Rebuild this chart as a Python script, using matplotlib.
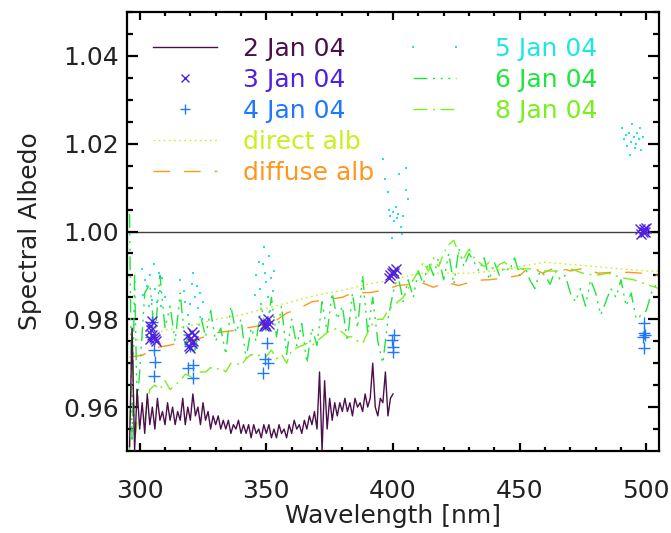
"""
Spectral albedo, Jan 04
"""
import matplotlib
matplotlib.use('Agg')
import matplotlib.pyplot as plt
from matplotlib.lines import Line2D
import numpy as np

# --- 2 Jan 04 : spectrum, 1 nm
wl_2jan = np.arange(296, 401)
alb_2jan = [
    0.951, 0.978, 0.950, 0.964, 0.955, 0.961, 0.954, 0.963, 0.956, 0.960,
    0.955, 0.962, 0.957, 0.959, 0.956, 0.961, 0.957, 0.960, 0.956, 0.959,
    0.957, 0.962, 0.956, 0.960, 0.957, 0.963, 0.958, 0.960, 0.956, 0.961,
    0.957, 0.959, 0.955, 0.958, 0.956, 0.958, 0.955, 0.957, 0.955, 0.957,
    0.954, 0.956, 0.955, 0.957, 0.954, 0.956, 0.954, 0.956, 0.953, 0.956,
    0.954, 0.955, 0.953, 0.956, 0.954, 0.956, 0.953, 0.955, 0.953, 0.956,
    0.954, 0.955, 0.953, 0.956, 0.954, 0.957, 0.955, 0.956, 0.954, 0.957,
    0.955, 0.958, 0.956, 0.959, 0.955, 0.968, 0.950, 0.966, 0.955, 0.962,
    0.957, 0.961, 0.958, 0.961, 0.959, 0.962, 0.959, 0.961, 0.958, 0.962,
    0.960, 0.961, 0.959, 0.963, 0.960, 0.962, 0.970, 0.960, 0.958, 0.962,
    0.961, 0.968, 0.958, 0.962, 0.963,
]

# --- 3 Jan 04 : x markers
wl_3jan = [304, 304.5, 305, 305.5, 306, 305, 304, 306.5,
           319, 320, 320.5, 321, 319.5, 320, 321.5, 320.5,
           348.5, 349.5, 350, 350.5, 351, 349,
           398.5, 399.5, 400, 400.5, 401, 399,
           497.5, 498.5, 499, 499.5, 500, 498]
alb_3jan = [0.9785, 0.9775, 0.9765, 0.976, 0.9755, 0.9795, 0.9755, 0.975,
            0.9765, 0.9755, 0.9745, 0.975, 0.974, 0.9735, 0.9765, 0.977,
            0.9795, 0.979, 0.9785, 0.980, 0.979, 0.9785,
            0.9895, 0.9905, 0.991, 0.9905, 0.9915, 0.990,
            1.0005, 1.000, 1.0005, 1.000, 1.0008, 0.9995]

# --- 4 Jan 04 : + markers
wl_4jan = [305, 304.5, 305.5, 306, 305.5,
           319, 321, 321, 320,
           350.3, 349.5, 350.7, 348.8,
           400.5, 399.5, 400, 400,
           499, 499, 498.5, 499.5, 499]
alb_4jan = [0.9793, 0.9759, 0.973, 0.9703, 0.967,
            0.969, 0.9695, 0.9666, 0.974,
            0.9745, 0.971, 0.970, 0.9677,
            0.9764, 0.9752, 0.9736, 0.9725,
            0.9791, 0.9768, 0.9759, 0.9764, 0.9734]

# --- 5 Jan 04 : dots
wl_5jan = [301, 302, 303, 301.5, 304, 305.5, 306, 307, 308, 309, 310, 303.5, 305, 307.5, 308.5,
           316, 317.5, 318, 319, 320, 320.5, 321, 322, 323, 324, 324.5, 319.5, 322.5, 325,
           345.5, 346, 347, 347.5, 348, 349, 349.5, 350, 350.5, 351, 352, 352.5, 353, 348.5, 351.5,
           396, 397, 398, 398.5, 399, 400, 400.5, 401, 401.5, 402, 403, 404, 403.5, 405, 406, 399.5, 402.5, 405,
           490.5, 491, 492, 492.5, 493, 494, 494.5, 495, 496, 496.5, 497, 498, 498.5, 493.5, 497.5, 495.5]
alb_5jan = [0.9915, 0.989, 0.9875, 0.9855, 0.990, 0.9925, 0.987, 0.984, 0.9865, 0.9895, 0.985, 0.983, 0.9845, 0.9905, 0.983,
            0.989, 0.9865, 0.984, 0.981, 0.9835, 0.988, 0.9905, 0.985, 0.9825, 0.986, 0.980, 0.979, 0.9875, 0.984,
            0.9855, 0.990, 0.993, 0.987, 0.9835, 0.9965, 0.9905, 0.9885, 0.985, 0.9945, 0.9895, 0.9865, 0.991, 0.9925, 0.982,
            1.0165, 1.012, 1.009, 1.005, 1.0035, 1.0045, 1.0025, 1.0055, 1.003, 1.004, 1.001, 1.0035, 0.9995, 1.0095, 1.0075, 0.9985, 1.013, 1.0145,
            1.0235, 1.021, 1.022, 1.0195, 1.0225, 1.0205, 1.0245, 1.0215, 1.020, 1.0225, 1.021, 1.0185, 1.0215, 1.0175, 1.0235, 1.019]

# --- 6 Jan 04
wl_6jan = [296, 297, 298, 299] + list(range(300, 505, 2)) + [505]
alb_6jan = [1.004, 0.952, 0.990, 0.960,
            0.968, 0.986, 0.988, 0.976, 0.990, 0.978, 0.983, 0.975, 0.986, 0.974,
            0.978, 0.973, 0.981, 0.976, 0.982, 0.975, 0.978, 0.972, 0.983, 0.977,
            0.980, 0.971, 0.978, 0.975, 0.983, 0.977, 0.985, 0.976, 0.983, 0.972,
            0.980, 0.974, 0.979, 0.970, 0.978, 0.974, 0.984, 0.977, 0.986, 0.980,
            0.983, 0.975, 0.986, 0.978, 0.990, 0.977, 0.985, 0.975, 0.970, 0.980,
            0.986, 0.990, 0.984, 0.989, 0.985, 0.991, 0.988, 0.993, 0.990, 0.994,
            0.989, 0.995, 0.988, 0.996, 0.992, 0.995, 0.993, 0.991, 0.994, 0.989,
            0.993, 0.990, 0.992, 0.991, 0.994, 0.990, 0.992, 0.989, 0.987, 0.991,
            0.990, 0.988, 0.991, 0.989, 0.990, 0.986, 0.984, 0.987, 0.983, 0.989,
            0.986, 0.981, 0.984, 0.987, 0.985, 0.989, 0.983, 0.986, 0.980, 0.981,
            0.982, 0.986, 0.988, 0.987]

# --- 8 Jan 04
wl_8jan = [296, 297, 298, 299] + list(range(300, 450, 2)) + list(range(450, 506, 5))
alb_8jan = [0.950, 0.978, 0.952, 0.957,
            0.956, 0.957, 0.964, 0.965, 0.964, 0.966, 0.964, 0.965, 0.966, 0.9675,
            0.967, 0.966, 0.968, 0.968, 0.969, 0.9685, 0.969, 0.968, 0.970, 0.970,
            0.9695, 0.971, 0.972, 0.9715, 0.972, 0.9715, 0.973, 0.971, 0.972, 0.970,
            0.973, 0.9735, 0.974, 0.9745, 0.974, 0.975, 0.976, 0.977, 0.9775, 0.978,
            0.977, 0.976, 0.976, 0.975, 0.9745, 0.977, 0.979, 0.980, 0.980, 0.982,
            0.983, 0.984, 0.985, 0.987, 0.989, 0.991, 0.993, 0.991, 0.994, 0.992,
            0.995, 0.997, 0.998, 0.995, 0.994, 0.996, 0.994, 0.993, 0.992, 0.993,
            0.991, 0.9925, 0.993, 0.992, 0.991,
            0.9915, 0.9915, 0.991, 0.991, 0.9915, 0.9905, 0.990, 0.9905, 0.9895, 0.989,
            0.988, 0.987]

# --- direct / diffuse albedo
wl_dir = [297, 300, 310, 320, 330, 340, 350, 360, 370, 380, 390, 400, 410, 420,
          430, 440, 450, 460, 470, 480, 490, 500, 505]
alb_dir = [0.9748, 0.9755, 0.9775, 0.9785, 0.980, 0.981, 0.9825, 0.984, 0.9855, 0.9866, 0.988, 0.989, 0.9905, 0.9905,
           0.9905, 0.991, 0.992, 0.993, 0.9925, 0.992, 0.9915, 0.991, 0.991]
wl_dif = [296, 301, 307, 311, 326, 331, 338, 342, 348, 352, 358, 363, 368, 374, 380, 384,
          391, 396, 402, 408, 412, 416, 421, 426, 433, 438, 445, 450, 454, 459, 465, 470,
          475, 481, 487, 493, 498, 505]
alb_dif = [0.9714, 0.9718, 0.9736, 0.974, 0.976, 0.977, 0.9775, 0.978, 0.9786, 0.979, 0.9814, 0.9825,
           0.984, 0.9845, 0.985, 0.986, 0.9861, 0.9866, 0.9877, 0.988, 0.9882, 0.9873, 0.9884, 0.9877,
           0.9889, 0.989, 0.9895, 0.990, 0.992, 0.9905, 0.992, 0.991, 0.9916, 0.9905, 0.9907, 0.9907,
           0.9905, 0.990]

c2 = '#4b0f4b'
c3 = '#5020e0'
c4 = '#1e78ff'
c5 = '#1ee6e6'
c6 = '#1ee63c'
c8 = '#78f01e'
cdir = '#c8f01e'
cdif = '#ff961e'

ls6 = (0, (10, 4, 1.5, 4, 1.5, 4, 1.5, 4))
ls8 = (0, (10, 4, 1.5, 4))
lsdir = (0, (1.2, 2.5))
lsdif = (0, (12, 10))

plt.rcParams['font.family'] = ['DejaVu Sans']
fs = 18

fig = plt.figure(figsize=(6.71, 5.33), dpi=100)
ax = fig.add_axes([127 / 671, 82 / 533, 532 / 671, 439 / 533])

ax.axhline(1.0, color='#404040', lw=1.0, zorder=1)
ax.plot(wl_2jan, alb_2jan, color=c2, lw=1.0, zorder=3)
ax.plot(wl_dir, alb_dir, color=cdir, lw=1.0, ls=lsdir, zorder=2)
ax.plot(wl_dif, alb_dif, color=cdif, lw=1.0, ls=lsdif, zorder=2)
ax.plot(wl_6jan, alb_6jan, color=c6, lw=1.0, ls=ls6, zorder=2)
ax.plot(wl_8jan, alb_8jan, color=c8, lw=1.0, ls=ls8, zorder=2)
ax.plot(wl_5jan, alb_5jan, ls='none', marker='s', ms=1.9, mew=0, color=c5, zorder=2)
ax.plot(wl_4jan, alb_4jan, ls='none', marker='+', ms=9, mew=1.0, color=c4, zorder=4)
ax.plot(wl_3jan, alb_3jan, ls='none', marker='x', ms=7, mew=1.0, color=c3, zorder=5)

ax.set_xlim(295, 505)
ax.set_ylim(0.95, 1.05)
ax.set_xticks([300, 350, 400, 450, 500])
ax.set_xticks(np.arange(300, 501, 10), minor=True)
ax.set_yticks([0.96, 0.98, 1.00, 1.02, 1.04])
ax.set_yticks(np.arange(0.955, 1.05, 0.005), minor=True)
ax.set_yticklabels(['0.96', '0.98', '1.00', '1.02', '1.04'])

for s in ax.spines.values():
    s.set_linewidth(1.6)
ax.tick_params(which='both', direction='in', top=True, right=True, width=1.6,
               labelsize=fs, labelcolor='#222222')
ax.tick_params(axis='x', which='major', length=6, pad=20)
ax.tick_params(axis='x', which='minor', length=3)
ax.tick_params(axis='y', which='major', length=8, pad=6)
ax.tick_params(axis='y', which='minor', length=4)

ax.set_xlabel('Wavelength [nm]', fontsize=fs, color='#222222', labelpad=1)
ax.set_ylabel('Spectral Albedo', fontsize=fs, color='#222222', labelpad=15)

# legend, two columns placed by hand
h1 = [Line2D([], [], color=c2, lw=1.0),
      Line2D([], [], ls='none', marker='x', ms=6, mew=1.0, color=c3),
      Line2D([], [], ls='none', marker='+', ms=7, mew=1.0, color=c4),
      Line2D([], [], color=cdir, lw=1.0, ls=lsdir),
      Line2D([], [], color=cdif, lw=1.0, ls=lsdif)]
l1 = ['2 Jan 04', '3 Jan 04', '4 Jan 04', 'direct alb', 'diffuse alb']
col1 = [c2, c3, c4, cdir, cdif]
leg1 = ax.legend(h1, l1, loc='upper left', bbox_to_anchor=(0.049, 0.944), frameon=False,
                 fontsize=fs, handlelength=2.56, handletextpad=1.04, labelspacing=0.28,
                 borderpad=0, borderaxespad=0, numpoints=1)
for t, c in zip(leg1.get_texts(), col1):
    t.set_color(c)
ax.add_artist(leg1)

h2 = [Line2D([], [], ls='none', marker='s', ms=1.9, mew=0, color=c5),
      Line2D([], [], color=c6, lw=1.0, ls=ls6),
      Line2D([], [], color=c8, lw=1.0, ls=ls8)]
l2 = ['5 Jan 04', '6 Jan 04', '8 Jan 04']
col2 = [c5, c6, c8]
leg2 = ax.legend(h2, l2, loc='upper left', bbox_to_anchor=(0.523, 0.944), frameon=False,
                 fontsize=fs, handlelength=2.32, handletextpad=1.28, labelspacing=0.28,
                 borderpad=0, borderaxespad=0, numpoints=2)
for t, c in zip(leg2.get_texts(), col2):
    t.set_color(c)

fig.savefig('out.png', dpi=100)
plt.close(fig)
